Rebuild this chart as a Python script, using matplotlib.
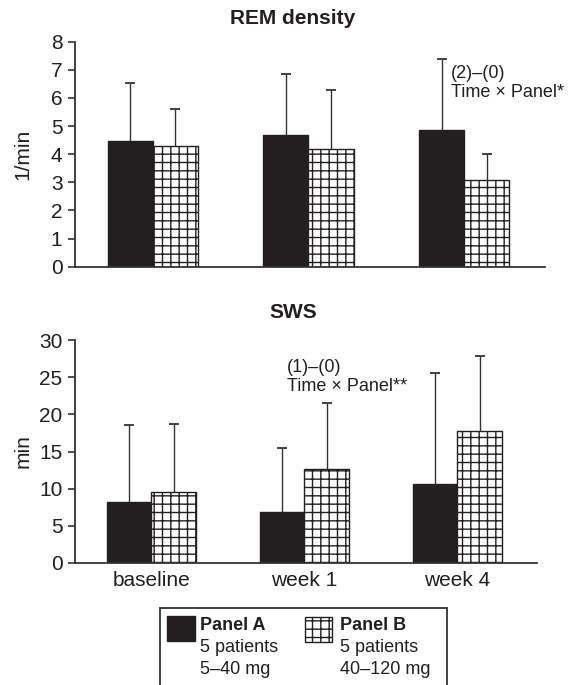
import numpy as np
import matplotlib
matplotlib.use("Agg")
import matplotlib.pyplot as plt
from matplotlib.patches import Rectangle

plt.rcParams["font.family"] = ["Liberation Sans", "DejaVu Sans"]
plt.rcParams["hatch.linewidth"] = 1.0

groups = ["baseline", "week 1", "week 4"]

# REM density (1/min), mean and SD per panel
rem_a = [4.47, 4.70, 4.86]
rem_a_sd = [2.07, 2.14, 2.53]
rem_b = [4.29, 4.18, 3.08]
rem_b_sd = [1.30, 2.11, 0.91]

# SWS (min), mean and SD per panel
sws_a = [8.15, 6.80, 10.57]
sws_a_sd = [10.45, 8.65, 15.03]
sws_b = [9.58, 12.58, 17.70]
sws_b_sd = [9.12, 8.92, 10.10]

ink = "#231f20"
W, H = 572, 685


def px(x, y):
    # pixel position (from top-left) -> figure fraction
    return x / W, 1 - y / H


def upper_whiskers(ax, x, mean, sd):
    top = np.asarray(mean) + np.asarray(sd)
    ax.vlines(x, mean, top, color="#333333", linewidth=1.0, zorder=3)
    ax.plot(x, top, linestyle="none", marker="_", markersize=7,
            markeredgewidth=1.3, color="#333333", zorder=3)


def draw_panel(ax, a, a_sd, b, b_sd, ylim, yticks, ylabel, title, title_y,
               note, note_xy, show_labels):
    x = np.arange(len(groups))
    w = 0.29
    ax.bar(x - w / 2, a, w, color=ink, edgecolor=ink, linewidth=1.0)
    ax.bar(x + w / 2, b, w, color="white", edgecolor=ink, linewidth=1.0,
           hatch="++")
    upper_whiskers(ax, x - w / 2, a, a_sd)
    upper_whiskers(ax, x + w / 2, b, b_sd)

    ax.set_xlim(-0.5, 2.52)
    ax.set_ylim(*ylim)
    ax.set_yticks(yticks)
    ax.tick_params(axis="y", length=5, width=1.2, colors="#333333",
                   labelcolor=ink, labelsize=15, pad=4)
    ax.set_xticks(x)
    if show_labels:
        ax.set_xticklabels(groups, fontsize=15, color=ink)
        ax.tick_params(axis="x", length=0, pad=6)
    else:
        ax.tick_params(axis="x", length=0, labelbottom=False)

    for side in ("top", "right"):
        ax.spines[side].set_visible(False)
    for side in ("left", "bottom"):
        ax.spines[side].set_color("#333333")
        ax.spines[side].set_linewidth(1.3)

    ax.set_ylabel(ylabel, fontsize=15, color=ink, va="center")
    ax.yaxis.set_label_coords(-52 / (ax.get_position().width * W), 0.5)

    tx, ty = px(293, title_y)
    ax.figure.text(tx, ty, title, fontsize=15, fontweight="bold",
                   color=ink, ha="center", va="center")

    ax.text(note_xy[0], note_xy[1], note, fontsize=13, color=ink,
            ha="left", va="top", linespacing=1.2)


fig = plt.figure(figsize=(W / 100, H / 100), dpi=100)

ax1 = fig.add_axes([75 / W, 1 - 266.7 / H, 470 / W, 225 / H])
draw_panel(ax1, rem_a, rem_a_sd, rem_b, rem_b_sd, (0, 8), range(0, 9),
           "1/min", "REM density", 18,
           "(2)–(0)\nTime × Panel*", (1.915, 7.18), False)

ax2 = fig.add_axes([75 / W, 1 - 563 / H, 462 / W, 223 / H])
draw_panel(ax2, sws_a, sws_a_sd, sws_b, sws_b_sd, (0, 30), range(0, 31, 5),
           "min", "SWS", 313,
           "(1)–(0)\nTime × Panel**", (0.887, 27.5), True)

# legend box, open at the bottom edge of the figure
bx, by = px(160, 608)
fig.add_artist(Rectangle((bx, by - 0.2), 287 / W, 0.2,
                         transform=fig.transFigure, facecolor="none",
                         edgecolor="#333333", linewidth=1.3))

sx, sy = px(167, 641)
fig.add_artist(Rectangle((sx, sy), 28 / W, 25 / H, transform=fig.transFigure,
                         facecolor=ink, edgecolor=ink, linewidth=1.0))
sx, sy = px(305, 642)
fig.add_artist(Rectangle((sx, sy), 27 / W, 25 / H, transform=fig.transFigure,
                         facecolor="white", edgecolor=ink, linewidth=1.0,
                         hatch="++"))

legend_rows = [
    (200, ["Panel A", "5 patients", "5–40 mg"]),
    (340, ["Panel B", "5 patients", "40–120 mg"]),
]
for lx, lines in legend_rows:
    for i, (line, ly) in enumerate(zip(lines, (626, 648, 670))):
        fx, fy = px(lx, ly)
        fig.text(fx, fy, line, fontsize=13, color=ink, ha="left", va="center",
                 fontweight="bold" if i == 0 else "normal")

fig.savefig("out.png", dpi=100)
